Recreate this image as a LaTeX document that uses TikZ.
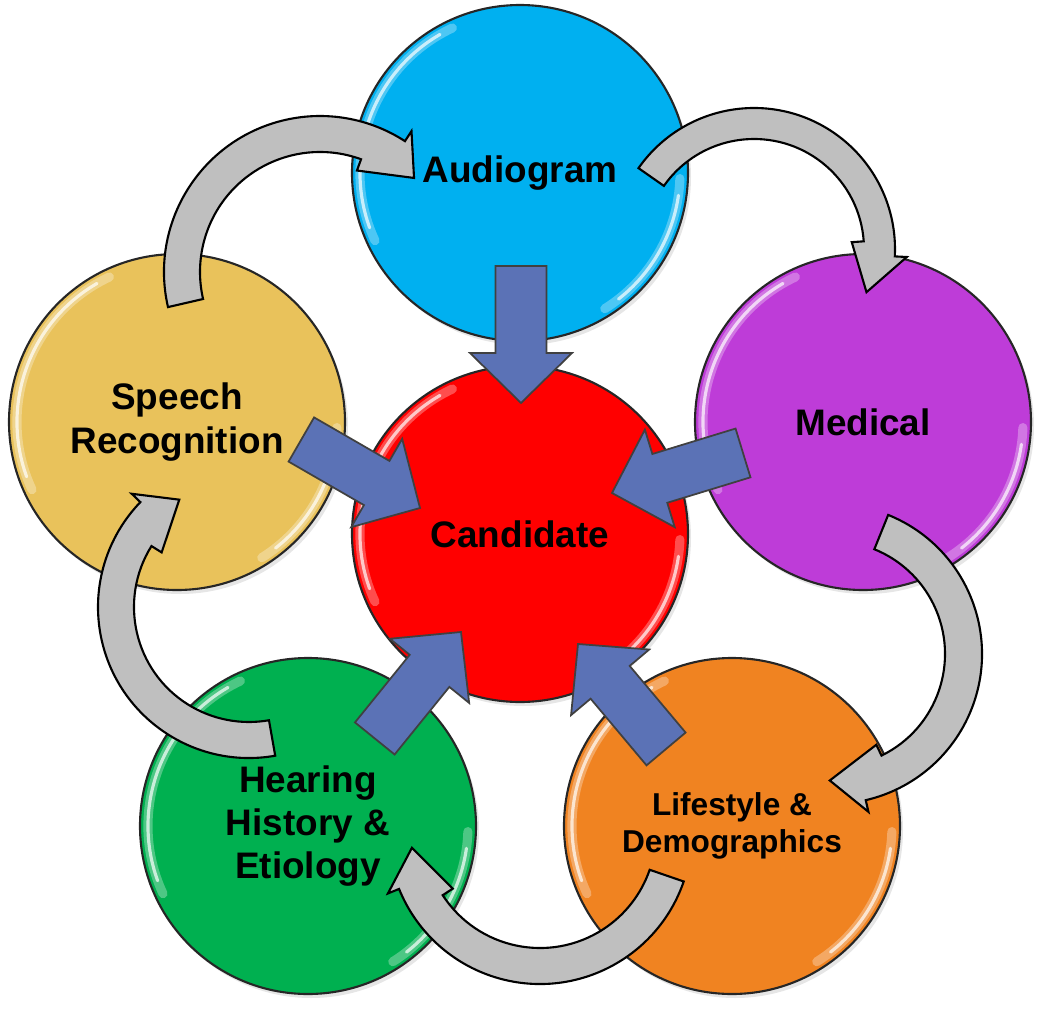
\documentclass[tikz,border=0pt]{standalone}
\usepackage{fontspec}
\setmainfont{Liberation Sans}
\usetikzlibrary{shadows}

\definecolor{audblue}{HTML}{00B0F0}
\definecolor{medpurple}{HTML}{BE3CD8}
\definecolor{lifeorange}{HTML}{F08321}
\definecolor{heargreen}{HTML}{00B050}
\definecolor{speechgold}{HTML}{E9C25B}
\definecolor{candred}{HTML}{FF0000}
\definecolor{arrowblue}{HTML}{5B72B6}
\definecolor{arrowgray}{HTML}{BFBFBF}

\tikzset{
  ball/.style={circle, minimum size=3.36cm, inner sep=0pt, fill=#1,
    draw=black!85, line width=0.6pt, align=center,
    drop shadow={opacity=0.2, shadow xshift=0.03cm, shadow yshift=-0.04cm},
    font=\fontsize{10.5}{12.3}\selectfont\bfseries},
  shinestroke/.style={white, line cap=round}
}

% light rim on the left and lower right of a ball
\newcommand{\shine}[1]{%
  \draw[shinestroke, opacity=0.3, line width=2.6pt] ([shift={(115:1.60)}]#1.center) arc[start angle=115, end angle=205, radius=1.60];
  \draw[shinestroke, opacity=0.7, line width=0.9pt] ([shift={(120:1.60)}]#1.center) arc[start angle=120, end angle=200, radius=1.60];
  \draw[shinestroke, opacity=0.3, line width=2.6pt] ([shift={(-2:1.60)}]#1.center) arc[start angle=-2, end angle=-58, radius=1.60];
  \draw[shinestroke, opacity=0.7, line width=0.9pt] ([shift={(-8:1.60)}]#1.center) arc[start angle=-8, end angle=-52, radius=1.60];}

% block arrow with its tip at #1, pointing at angle #2
\newcommand{\blockarrow}[2]{%
  \filldraw[fill=arrowblue, draw=black!75, line width=0.5pt, shift={#1}, rotate=#2]
    (0,0) -- (-0.50,0.51) -- (-0.50,0.255) -- (-1.37,0.255)
    -- (-1.37,-0.255) -- (-0.50,-0.255) -- (-0.50,-0.51) -- cycle;}

% curved arrow round #1, radii #2 (in) and #3 (out), from angle #4,
% outer side ends at #5, inner side at #6, tip at #7
\newcommand{\curvedarrow}[7]{%
  \filldraw[fill=arrowgray, draw=black, line width=0.6pt, shift={#1}]
    (#4:#3) arc[start angle=#4, end angle=#5, radius=#3]
    -- ({#5}:{#3+0.12}) -- ({#7}:{(#2+#3)/2-0.05}) -- ({#6}:{#2-0.12})
    -- (#6:#2) arc[start angle=#6, end angle=#4, radius=#2] -- cycle;}

\begin{document}
\begin{tikzpicture}
  \useasboundingbox (0,0) rectangle (10.5,10.09);

  \node[ball=candred] (cand) at (5.20,4.75) {Candidate};
  \node[ball=audblue] (aud) at (5.20,8.36) {Audiogram};
  \node[ball=medpurple] (med) at (8.63,5.87) {Medical};
  \node[ball=lifeorange, font=\fontsize{9}{10.4}\selectfont\bfseries] (life) at (7.32,1.83) {Lifestyle \&\\Demographics};
  \node[ball=heargreen] (hear) at (3.08,1.83) {Hearing\\History \&\\Etiology};
  \node[ball=speechgold] (speech) at (1.77,5.87) {Speech\\Recognition};

  \shine{cand}
  \shine{aud}
  \shine{med}
  \shine{life}
  \shine{hear}
  \shine{speech}

  % centres of the curved arrows
  \coordinate (c-am) at (7.54,7.60);
  \coordinate (c-ml) at (8.32,3.55);
  \coordinate (c-lh) at (5.40,1.77);
  \coordinate (c-hs) at (2.49,4.02);
  \coordinate (c-sa) at (3.20,7.37);

  \curvedarrow{(c-am)}{1.10}{1.41}{145}{-3}{4}{-21}
  \curvedarrow{(c-ml)}{1.13}{1.50}{68}{-77}{-64}{-91}
  \curvedarrow{(c-lh)}{1.16}{1.52}{-19}{-158}{-147}{-173}
  \curvedarrow{(c-hs)}{1.15}{1.51}{-80}{-224}{-212}{-237}
  \curvedarrow{(c-sa)}{1.20}{1.56}{193}{57}{70}{45}

  % arrows into the candidate
  \blockarrow{(5.21,6.06)}{270}
  \blockarrow{(6.12,5.16)}{197}
  \blockarrow{(5.78,3.65)}{130}
  \blockarrow{(4.61,3.77)}{51}
  \blockarrow{(4.20,5.01)}{-30}
\end{tikzpicture}
\end{document}
